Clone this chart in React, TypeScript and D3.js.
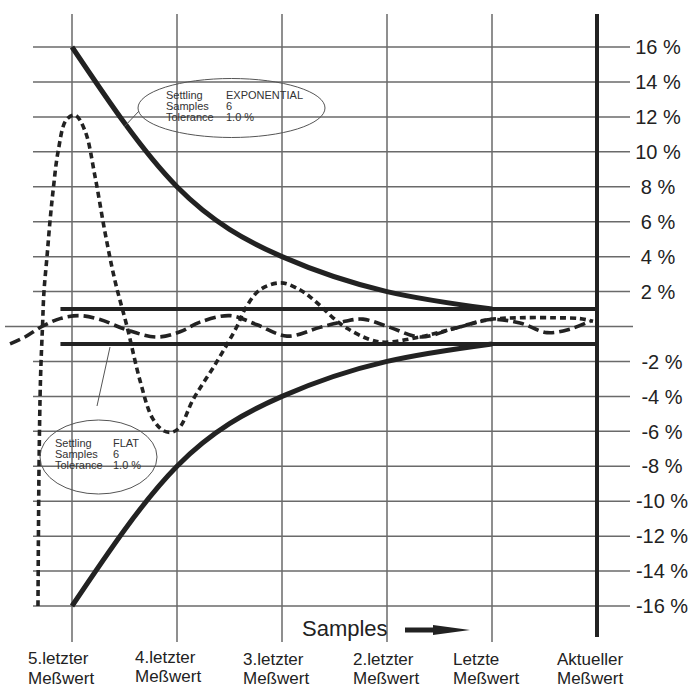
import React from 'react';
import * as d3 from 'd3';

// ---- data ----
const sampleIndex = [0, 1, 2, 3, 4, 5];
const sampleLabelTop = ['5.letzter', '4.letzter', '3.letzter', '2.letzter', 'Letzte', 'Aktueller'];
const sampleLabelBottom = ['Meßwert', 'Meßwert', 'Meßwert', 'Meßwert', 'Meßwert', 'Meßwert'];
const yTicks = [16, 14, 12, 10, 8, 6, 4, 2, -2, -4, -6, -8, -10, -12, -14, -16];

const envelopeX = [0, 1, 2, 3, 4];
const envelopeUpper = [16, 8, 4, 2, 1];
const envelopeLower = [-16, -8, -4, -2, -1];

const toleranceValue = 1;
const bandX = [-0.11, 5];

// oscillating response (short dots)
const expRespX = [-0.324, -0.314, -0.3, -0.281, -0.267, -0.238, -0.21, -0.176, -0.133, -0.057, 0.029, 0.124, 0.219, 0.314, 0.41, 0.524, 0.648, 0.762, 0.867, 0.952, 1.029, 1.152, 1.381, 1.571, 1.648, 1.79, 1.99, 2.171, 2.267, 2.381, 2.486, 2.619, 2.838, 2.981, 3.314, 3.648, 3.981, 4.267, 4.6, 4.838, 4.962];
const expRespY = [-16, -8, -3, 0, 2, 4, 6, 8, 10, 11.8, 12.1, 11.2, 8.6, 5.4, 2.6, 0, -3.1, -5.2, -5.95, -6.05, -5.75, -4.2, -2, 0, 1, 2.1, 2.5, 2.1, 1.7, 1.1, 0.5, -0.1, -0.75, -0.9, -0.6, -0.1, 0.4, 0.5, 0.5, 0.45, 0.3];

// flat response (long dashes)
const flatRespX = [-0.59, -0.448, -0.286, -0.114, 0.076, 0.267, 0.524, 0.81, 1.029, 1.219, 1.505, 1.762, 2.048, 2.362, 2.6, 2.771, 3.029, 3.314, 3.648, 3.981, 4.267, 4.524, 4.743, 4.933];
const flatRespY = [-1.0, -0.6, 0, 0.45, 0.62, 0.4, -0.2, -0.6, -0.3, 0.25, 0.62, 0.1, -0.55, -0.05, 0.3, 0.42, -0.05, -0.6, -0.1, 0.4, 0.2, -0.35, -0.15, 0.3];

const noteLabels = ['Settling', 'Samples', 'Tolerance'];
const expNoteValues = ['EXPONENTIAL', '6', '1.0 %'];
const flatNoteValues = ['FLAT', '6', '1.0 %'];

// ---- layout ----
const W = 696;
const H = 688;
const FONT = '"Liberation Sans", Arial, Helvetica, sans-serif';
const INK = '#222';
const GRID = '#6a6a6a';
const labelDx = [-44, -42, -39, -34, -39, -40];
const labelDy = [0, -1.5, 0.5, 0.5, 0.5, 0.5];

export default function App() {
  const x = d3.scaleLinear().domain([0, 5]).range([72, 597]);
  const y = d3.scaleLinear().domain([-16, 16]).range([606, 47]);

  const envLine = d3
    .line<number>()
    .x((_, i) => x(envelopeX[i]))
    .y((d) => y(d))
    .curve(d3.curveNatural);

  const respLine = (xs: number[]) =>
    d3
      .line<number>()
      .x((_, i) => x(xs[i]))
      .y((d) => y(d))
      .curve(d3.curveCatmullRom.alpha(0.5));

  const gridTop = 14;
  const gridBottom = 642;
  const hLeft = 33;
  const hRight = 630;

  const expEll = { cx: 231.5, cy: 108, rx: 93.5, ry: 29.5 };
  const flatEll = { cx: 98.5, cy: 457, rx: 58.5, ry: 37 };

  return (
    <svg
      width={W}
      height={H}
      style={{ position: 'absolute', left: 0, top: 0, background: '#fff' }}
      fontFamily={FONT}
    >
      <rect width={W} height={H} fill="#fff" />
      {/* vertical grid */}
      {sampleIndex.slice(0, 5).map((s) => (
        <line key={'v' + s} x1={x(s)} x2={x(s)} y1={gridTop} y2={gridBottom} stroke={GRID} strokeWidth={1.5} />
      ))}
      {/* horizontal grid */}
      {yTicks.map((t) => (
        <line key={'h' + t} x1={hLeft} x2={hRight} y1={y(t)} y2={y(t)} stroke={GRID} strokeWidth={1.5} />
      ))}
      <line x1={5} x2={633} y1={y(0)} y2={y(0)} stroke={GRID} strokeWidth={1.5} />
      {/* current value thick line */}
      <line x1={x(5)} x2={x(5)} y1={gridTop} y2={637} stroke={INK} strokeWidth={4} />

      {/* tick labels */}
      {yTicks.map((t) => (
        <text
          key={'l' + t}
          x={t < 0 ? 662 : 658}
          y={y(t)}
          dy="0.36em"
          fontSize={20}
          textAnchor="middle"
          fill={INK}
        >
          {`${t} %`}
        </text>
      ))}

      {/* tolerance band */}
      {[toleranceValue, -toleranceValue].map((v) => (
        <line key={'b' + v} x1={x(bandX[0])} x2={x(bandX[1])} y1={y(v)} y2={y(v)} stroke={INK} strokeWidth={4} />
      ))}

      {/* exponential envelope */}
      <path d={envLine(envelopeUpper) || ''} fill="none" stroke={INK} strokeWidth={5} />
      <path d={envLine(envelopeLower) || ''} fill="none" stroke={INK} strokeWidth={5} />

      {/* responses */}
      <path
        d={respLine(flatRespX)(flatRespY) || ''}
        fill="none"
        stroke={INK}
        strokeWidth={3.6}
        strokeDasharray="11,5"
      />
      <path
        d={respLine(expRespX)(expRespY) || ''}
        fill="none"
        stroke={INK}
        strokeWidth={3.6}
        strokeDasharray="6,4"
      />

      {/* annotation: exponential */}
      <ellipse cx={expEll.cx} cy={expEll.cy} rx={expEll.rx} ry={expEll.ry} fill="none" stroke="#555" strokeWidth={1} />
      <line x1={139} y1={111} x2={124} y2={127} stroke="#555" strokeWidth={1} />
      {noteLabels.map((l, i) => (
        <g key={'en' + i} fontSize={11} fill="#333">
          <text x={166} y={98.5 + i * 11.2}>{l}</text>
          <text x={226} y={98.5 + i * 11.2}>{expNoteValues[i]}</text>
        </g>
      ))}

      {/* annotation: flat */}
      <ellipse cx={flatEll.cx} cy={flatEll.cy} rx={flatEll.rx} ry={flatEll.ry} fill="none" stroke="#555" strokeWidth={1} />
      <line x1={110} y1={347} x2={97} y2={406} stroke="#555" strokeWidth={1} />
      {noteLabels.map((l, i) => (
        <g key={'fn' + i} fontSize={11} fill="#333">
          <text x={55} y={447 + i * 11}>{l}</text>
          <text x={113} y={447 + i * 11}>{flatNoteValues[i]}</text>
        </g>
      ))}

      {/* x labels */}
      {sampleIndex.map((s, i) => (
        <g key={'xl' + s} fontSize={17} fill={INK}>
          <text x={x(s) + labelDx[i]} y={664 + labelDy[i]}>{sampleLabelTop[i]}</text>
          <text x={x(s) + labelDx[i]} y={683.5 + labelDy[i]}>{sampleLabelBottom[i]}</text>
        </g>
      ))}

      {/* Samples arrow */}
      <text x={302} y={636} fontSize={22} fill={INK}>Samples</text>
      <polygon
        points="405,627.5 433,627.5 433,625 470,630 433,635 433,632.5 405,632.5"
        fill={INK}
      />
    </svg>
  );
}
